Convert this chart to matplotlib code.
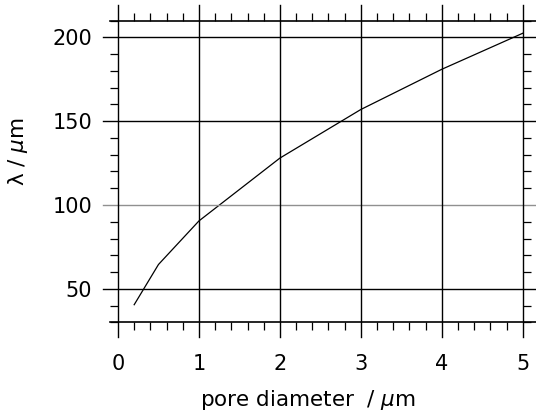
import numpy as np
import matplotlib
matplotlib.use('Agg')
import matplotlib.pyplot as plt
from matplotlib.ticker import MultipleLocator

# pore diameter (um) vs lambda (um)
pore_d = [0.2, 0.5, 1.0, 2.0, 3.0, 4.0, 5.0]
lam    = [40.5, 64.5, 90.5, 128.0, 157.0, 181.0, 202.5]

x_major = [0, 1, 2, 3, 4, 5]
y_major = [50, 100, 150, 200]

plt.rcParams['font.family'] = 'DejaVu Sans'
plt.rcParams['mathtext.fontset'] = 'dejavusans'

fig = plt.figure(figsize=(5.36, 4.17), dpi=100)
ax = fig.add_axes([118/536, 1 - 322.3/417, 404.7/536, 301.6/417])
ax.plot(pore_d, lam, color='black', lw=0.9)
ax.set_xlim(0, 5)
ax.set_ylim(30, 210)

for s in ax.spines.values():
    s.set_visible(False)

# extended grid lines (past the box, like the original)
for yv in y_major:
    c = '#909090' if yv == 100 else 'black'
    ax.axhline(yv, xmin=-0.037, xmax=1.04, color=c, lw=1.0, clip_on=False)
for xv in x_major:
    ax.axvline(xv, ymin=-0.049, ymax=1.052, color='black', lw=1.0, clip_on=False)
# top / bottom frame lines
for yv in (30, 210):
    ax.axhline(yv, xmin=-0.02, xmax=1.04, color='black', lw=1.2, clip_on=False)

ax.xaxis.set_minor_locator(MultipleLocator(0.2))
ax.yaxis.set_minor_locator(MultipleLocator(10))
ax.set_yticks(y_major)
ax.set_yticklabels([str(v) for v in y_major])
ax.set_xticks(x_major)
ax.set_xticklabels([str(v) for v in x_major])

ax.tick_params(axis='x', which='major', length=0, pad=23, labelsize=15)
ax.tick_params(axis='y', which='major', length=0, pad=18.5, labelsize=15)
ax.tick_params(axis='x', which='minor', direction='out', length=5.8, width=0.9,
               top=True, bottom=True)
ax.tick_params(axis='y', which='minor', direction='out', length=5.8, width=0.9,
               left=True, right=True)

fig.text(308/536, 1 - 400/417, r'pore diameter  / $\mu$m',
         ha='center', va='center', fontsize=15.5)
fig.text(18/536, 1 - 152/417, r'λ / $\mu$m', rotation=90,
         ha='center', va='center', fontsize=15.5)

fig.savefig('out.png', dpi=100)
